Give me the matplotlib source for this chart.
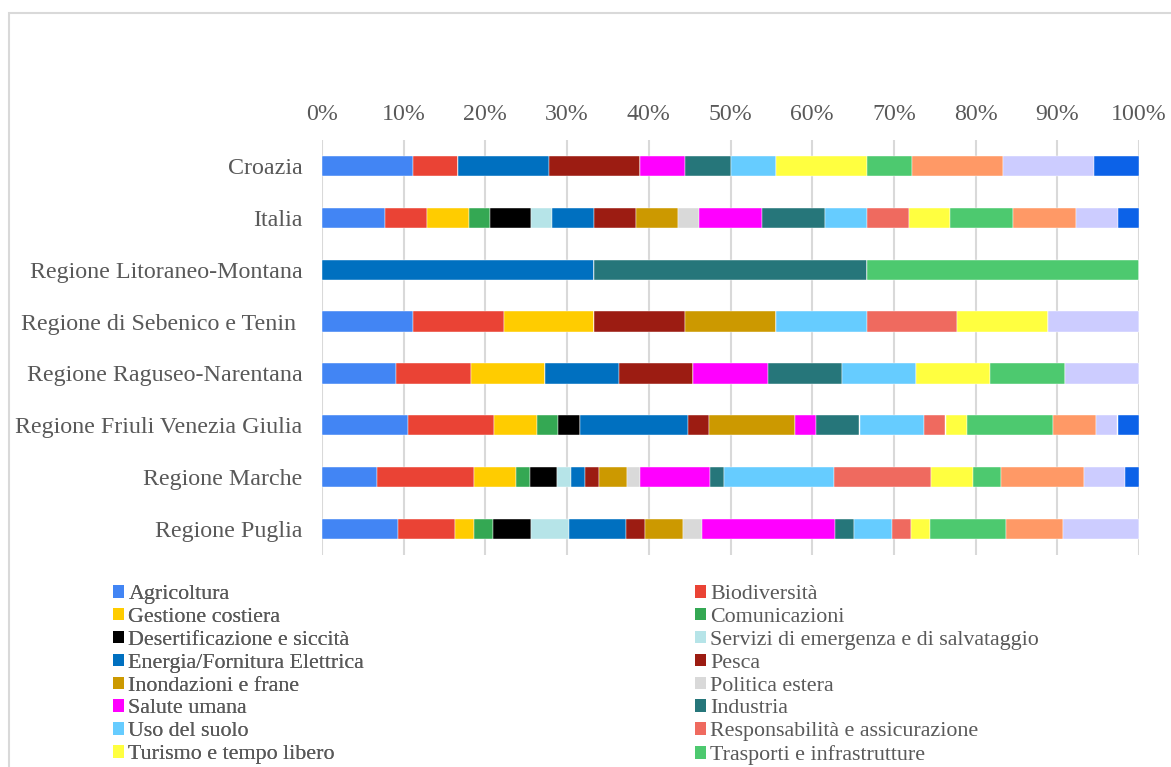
import numpy as np
import matplotlib.pyplot as plt
from matplotlib.patches import Patch, Rectangle

regions = ["Croazia", "Italia", "Regione Litoraneo-Montana", "Regione di Sebenico e Tenin ",
           "Regione Raguseo-Narentana", "Regione Friuli Venezia Giulia", "Regione Marche",
           "Regione Puglia"]

sectors = ["Agricoltura", "Biodiversità", "Gestione costiera", "Comunicazioni",
           "Desertificazione e siccità", "Servizi di emergenza e di salvataggio",
           "Energia/Fornitura Elettrica", "Pesca", "Inondazioni e frane", "Politica estera",
           "Salute umana", "Industria", "Uso del suolo", "Responsabilità e assicurazione",
           "Turismo e tempo libero", "Trasporti e infrastrutture",
           "Risorse idriche", "Pianificazione urbana", "Altro"]

colors = ["#4285F4", "#EA4335", "#FFCC00", "#34A853", "#000000", "#B6E4E8",
          "#0070C0", "#9C1C12", "#CC9900", "#D9D9D9", "#FF00FF", "#26767A",
          "#66CCFF", "#EF6A5F", "#FFFF40", "#4DC96F", "#FF9966", "#CCCCFF", "#0C62E8"]

# number of measures per sector, one list per region (same order as sectors)
croazia =    [2, 1, 0, 0, 0, 0, 2, 2, 0, 0, 1, 1, 1, 0, 2, 1, 2, 2, 1]
italia =     [3, 2, 2, 1, 2, 1, 2, 2, 2, 1, 3, 3, 2, 2, 2, 3, 3, 2, 1]
litoraneo =  [0, 0, 0, 0, 0, 0, 1, 0, 0, 0, 0, 1, 0, 0, 0, 1, 0, 0, 0]
sebenico =   [1, 1, 1, 0, 0, 0, 0, 1, 1, 0, 0, 0, 1, 1, 1, 0, 0, 1, 0]
raguseo =    [1, 1, 1, 0, 0, 0, 1, 1, 0, 0, 1, 1, 1, 0, 1, 1, 0, 1, 0]
friuli =     [4, 4, 2, 1, 1, 0, 5, 1, 4, 0, 1, 2, 3, 1, 1, 4, 2, 1, 1]
marche =     [4, 7, 3, 1, 2, 1, 1, 1, 2, 1, 5, 1, 8, 7, 3, 2, 6, 3, 1]
puglia =     [4, 3, 1, 1, 2, 2, 3, 1, 2, 1, 7, 1, 2, 1, 1, 4, 3, 4, 0]

counts = np.array([croazia, italia, litoraneo, sebenico, raguseo, friuli, marche, puglia], dtype=float)
shares = counts / counts.sum(axis=1, keepdims=True) * 100

plt.rcParams['font.family'] = ['Liberation Serif', 'DejaVu Serif']
txt = "#595959"

fig = plt.figure(figsize=(11.71, 7.67), dpi=100)
ax = fig.add_axes([322 / 1171, 1 - 555 / 767, 817 / 1171, 415 / 767])

y = np.arange(len(regions))
left = np.zeros(len(regions))
for j, name in enumerate(sectors):
    ax.barh(y, shares[:, j], left=left, height=0.39, color=colors[j],
            edgecolor="white", linewidth=0.3, label=name, zorder=3)
    left += shares[:, j]

ax.set_xlim(0, 100)
ax.set_ylim(len(regions) - 0.5, -0.5)
ax.set_yticks(y)
ax.set_yticklabels(regions)
ax.set_xticks(np.arange(0, 101, 10))
ax.set_xticklabels([f"{v}%" for v in range(0, 101, 10)])
ax.xaxis.tick_top()
ax.tick_params(axis="x", length=0, pad=11, labelsize=17.2, colors=txt)
ax.tick_params(axis="y", length=0, pad=14, labelsize=17.3, colors=txt)
ax.grid(axis="x", color="#D9D9D9", linewidth=1.5, zorder=0)
for s in ax.spines.values():
    s.set_visible(False)

# legend, read row by row in two columns (the last rows fall below the picture, as in the original)
handles = [Patch(facecolor=c, edgecolor="none") for c in colors]
kw = dict(frameon=False, fontsize=15.8, labelspacing=0.175, handlelength=0.5,
          handleheight=0.5, handletextpad=0.2, borderpad=0, borderaxespad=0,
          loc="upper left", labelcolor=txt)
lg1 = fig.legend(handles[0::2], sectors[0::2], bbox_to_anchor=(113 / 1171, 1 - 585 / 767), **kw)
fig.add_artist(lg1)
fig.legend(handles[1::2], sectors[1::2], bbox_to_anchor=(695 / 1171, 1 - 585 / 767), **kw)

# outer frame of the chart area
fig.patches.append(Rectangle((9 / 1171, -0.1), 1.2, 1 - 13 / 767 + 0.1, transform=fig.transFigure,
                             fill=False, edgecolor="#D9D9D9", linewidth=1.5))

fig.savefig("out.png", dpi=100)
